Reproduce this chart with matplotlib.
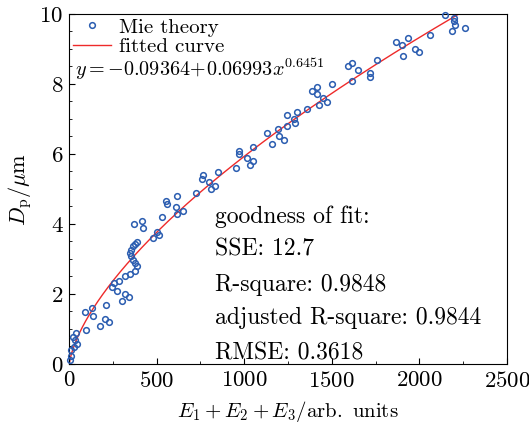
import numpy as np
import matplotlib
matplotlib.use('Agg')
import matplotlib.pyplot as plt
from matplotlib.ticker import MultipleLocator

# data
energy = [8, 10, 13, 31, 43, 33, 23, 38, 99, 94, 129, 139, 177, 207, 227, 213,
          304, 319, 340, 246, 256, 274, 287, 321, 350, 375, 387, 375, 367, 354,
          348, 354, 367, 377, 387, 371, 418, 424, 477, 500, 514, 532, 551, 557,
          608, 614, 653, 614, 723, 799, 812, 835, 757, 766, 850, 956, 1032, 1048,
          1018, 968, 970, 1050, 1157, 1128, 1200, 1229, 1191, 1245, 1245, 1290,
          1286, 1302, 1356, 1429, 1451, 1472, 1417, 1386, 1413, 1503, 1613, 1590,
          1617, 1651, 1716, 1716, 1756, 1867, 1899, 1937, 1904, 1976, 1999, 2058,
          2148, 2199, 2199, 2205, 2184, 2260]
diameter = [0.11, 0.24, 0.39, 0.48, 0.58, 0.69, 0.78, 0.89, 0.98, 1.49, 1.59, 1.38,
            1.09, 1.29, 1.19, 1.69, 1.79, 1.99, 1.90, 2.20, 2.30, 2.09, 2.38, 2.50,
            2.58, 2.67, 2.79, 2.89, 2.98, 3.08, 3.17, 3.27, 3.36, 3.44, 3.49, 4.00,
            4.09, 3.89, 3.59, 3.78, 3.69, 4.20, 4.66, 4.57, 4.48, 4.29, 4.38, 4.79,
            4.89, 5.20, 4.99, 5.09, 5.29, 5.39, 5.49, 5.59, 5.69, 5.80, 5.89, 5.99,
            6.09, 6.20, 6.29, 6.59, 6.50, 6.40, 6.70, 6.79, 7.10, 6.89, 7.00, 7.20,
            7.29, 7.39, 7.59, 7.49, 7.71, 7.80, 7.90, 8.00, 8.09, 8.50, 8.59, 8.39,
            8.31, 8.21, 8.69, 9.19, 9.11, 9.30, 8.80, 9.00, 8.90, 9.40, 9.98, 9.89,
            9.80, 9.69, 9.50, 9.60]

# fit parameters y = a + b*x^c
fit_a = -0.09364
fit_b = 0.06993
fit_c = 0.6451
stats = ['goodness of fit:', 'SSE: 12.7', 'R-square: 0.9848',
         'adjusted R-square: 0.9844', 'RMSE: 0.3618']

plt.rcParams['font.family'] = 'serif'
plt.rcParams['font.serif'] = ['cmr10']
plt.rcParams['mathtext.fontset'] = 'cm'
plt.rcParams['axes.formatter.use_mathtext'] = True

fig = plt.figure(figsize=(5.29, 4.30), dpi=100)
ax = fig.add_axes([0.1304, 0.1535, 0.8280, 0.8140])

ax.plot(energy, diameter, 'o', mfc='none', mec='#2a5cb0', ms=4.1, mew=1.1,
        label='Mie theory', clip_on=False, zorder=3)
xfit = np.linspace(0, 2300, 600)
ax.plot(xfit, fit_a + fit_b * xfit ** fit_c, color='#ee2a2a', lw=1.0,
        label='fitted curve')

ax.set_xlim(0, 2500)
ax.set_ylim(0, 10)
ax.xaxis.set_major_locator(MultipleLocator(500))
ax.xaxis.set_minor_locator(MultipleLocator(250))
ax.yaxis.set_major_locator(MultipleLocator(2))
ax.yaxis.set_minor_locator(MultipleLocator(0.5))
ax.tick_params(which='both', direction='in', labelsize=16.5)
ax.tick_params(axis='x', pad=5)
ax.tick_params(axis='y', pad=4)
ax.tick_params(which='major', length=4)
ax.tick_params(which='minor', length=2.5)

ax.set_xlabel(r'$E_1+E_2+E_3/\mathrm{arb.\ units}$', fontsize=15, labelpad=6)
ax.set_ylabel(r'$D_\mathrm{p}/\mathrm{\mu m}$', fontsize=16, labelpad=4)

ax.legend(loc='upper left', frameon=False, fontsize=15, handlelength=1.8,
          handletextpad=0.4, borderaxespad=0.05, labelspacing=0.05,
          borderpad=0.15, numpoints=1)
ax.text(0.014, 0.842, r'$y = -0.09364\!+\!0.06993x^{0.6451}$', transform=ax.transAxes,
        fontsize=14.5, va='center')

ys = [0.42, 0.326, 0.226, 0.131, 0.031]
for s, yy in zip(stats, ys):
    ax.text(0.333, yy, s, transform=ax.transAxes, fontsize=17, va='center')

fig.savefig('out.png', dpi=100)
